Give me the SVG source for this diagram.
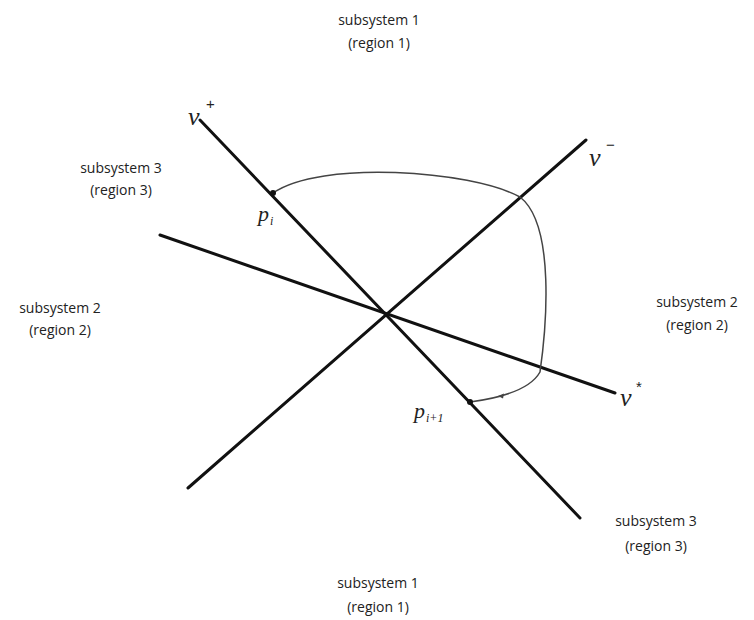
<svg xmlns="http://www.w3.org/2000/svg" width="754" height="620" viewBox="0 0 754 620">
<style>
.lbl{font-family:"Open Sans","Liberation Sans",sans-serif;font-size:14px;fill:#222;text-anchor:middle}
.ax{stroke:#111;stroke-width:3;fill:none;stroke-linecap:round}
.m{font-family:"Liberation Serif","DejaVu Serif",serif;font-style:italic;fill:#222}
.s{font-family:"Liberation Sans",sans-serif;fill:#222}
</style>
<rect width="754" height="620" fill="#fff"/>
<g id="labels">
<text class="lbl" x="379" y="25">subsystem 1</text><text class="lbl" x="379" y="48">(region 1)</text>
<text class="lbl" x="121" y="173">subsystem 3</text><text class="lbl" x="121" y="195">(region 3)</text>
<text class="lbl" x="60" y="313">subsystem 2</text><text class="lbl" x="60" y="335">(region 2)</text>
<text class="lbl" x="697" y="307">subsystem 2</text><text class="lbl" x="697" y="330">(region 2)</text>
<text class="lbl" x="656" y="526">subsystem 3</text><text class="lbl" x="656" y="551">(region 3)</text>
<text class="lbl" x="378" y="588">subsystem 1</text><text class="lbl" x="378" y="612">(region 1)</text>
</g>
<g id="connectors">
<line id="vplus" class="ax" x1="200" y1="120" x2="580" y2="518" stroke-width="2.6"/>
<line id="vminus" class="ax" x1="586" y1="140" x2="188" y2="488" stroke-width="2.4"/>
<line id="vstar" class="ax" x1="160" y1="235" x2="615" y2="393" stroke-width="3.4"/>
<path id="traj" d="M273,193 C320,160 470,170 520,197 C556,225 546,330 540,372 C530,390 500,398 470,402" fill="none" stroke="#444" stroke-width="1.5"/>
<path d="M498,396 L504,393.5 L503,398.5 Z" fill="#444"/>
</g>
<g id="pi"><circle cx="273" cy="193" r="3" fill="#111"/><text class="m" x="258" y="221" font-size="22">p</text><text class="m" x="270" y="225" font-size="12">i</text></g>
<g id="pi1"><circle cx="470" cy="402" r="3" fill="#111"/><text class="m" x="414" y="418" font-size="22">p</text><text class="m" x="426" y="422" font-size="12">i+1</text></g>
<g id="vp"><text class="m" x="188" y="125" font-size="26">v</text><text class="s" x="206" y="109" font-size="15">+</text></g>
<g id="vm"><text class="m" x="589" y="166" font-size="26">v</text><text class="s" x="606" y="150" font-size="15">−</text></g>
<g id="vs"><text class="m" x="620" y="406" font-size="26">v</text><text class="s" x="636" y="392" font-size="15">*</text></g>
</svg>
